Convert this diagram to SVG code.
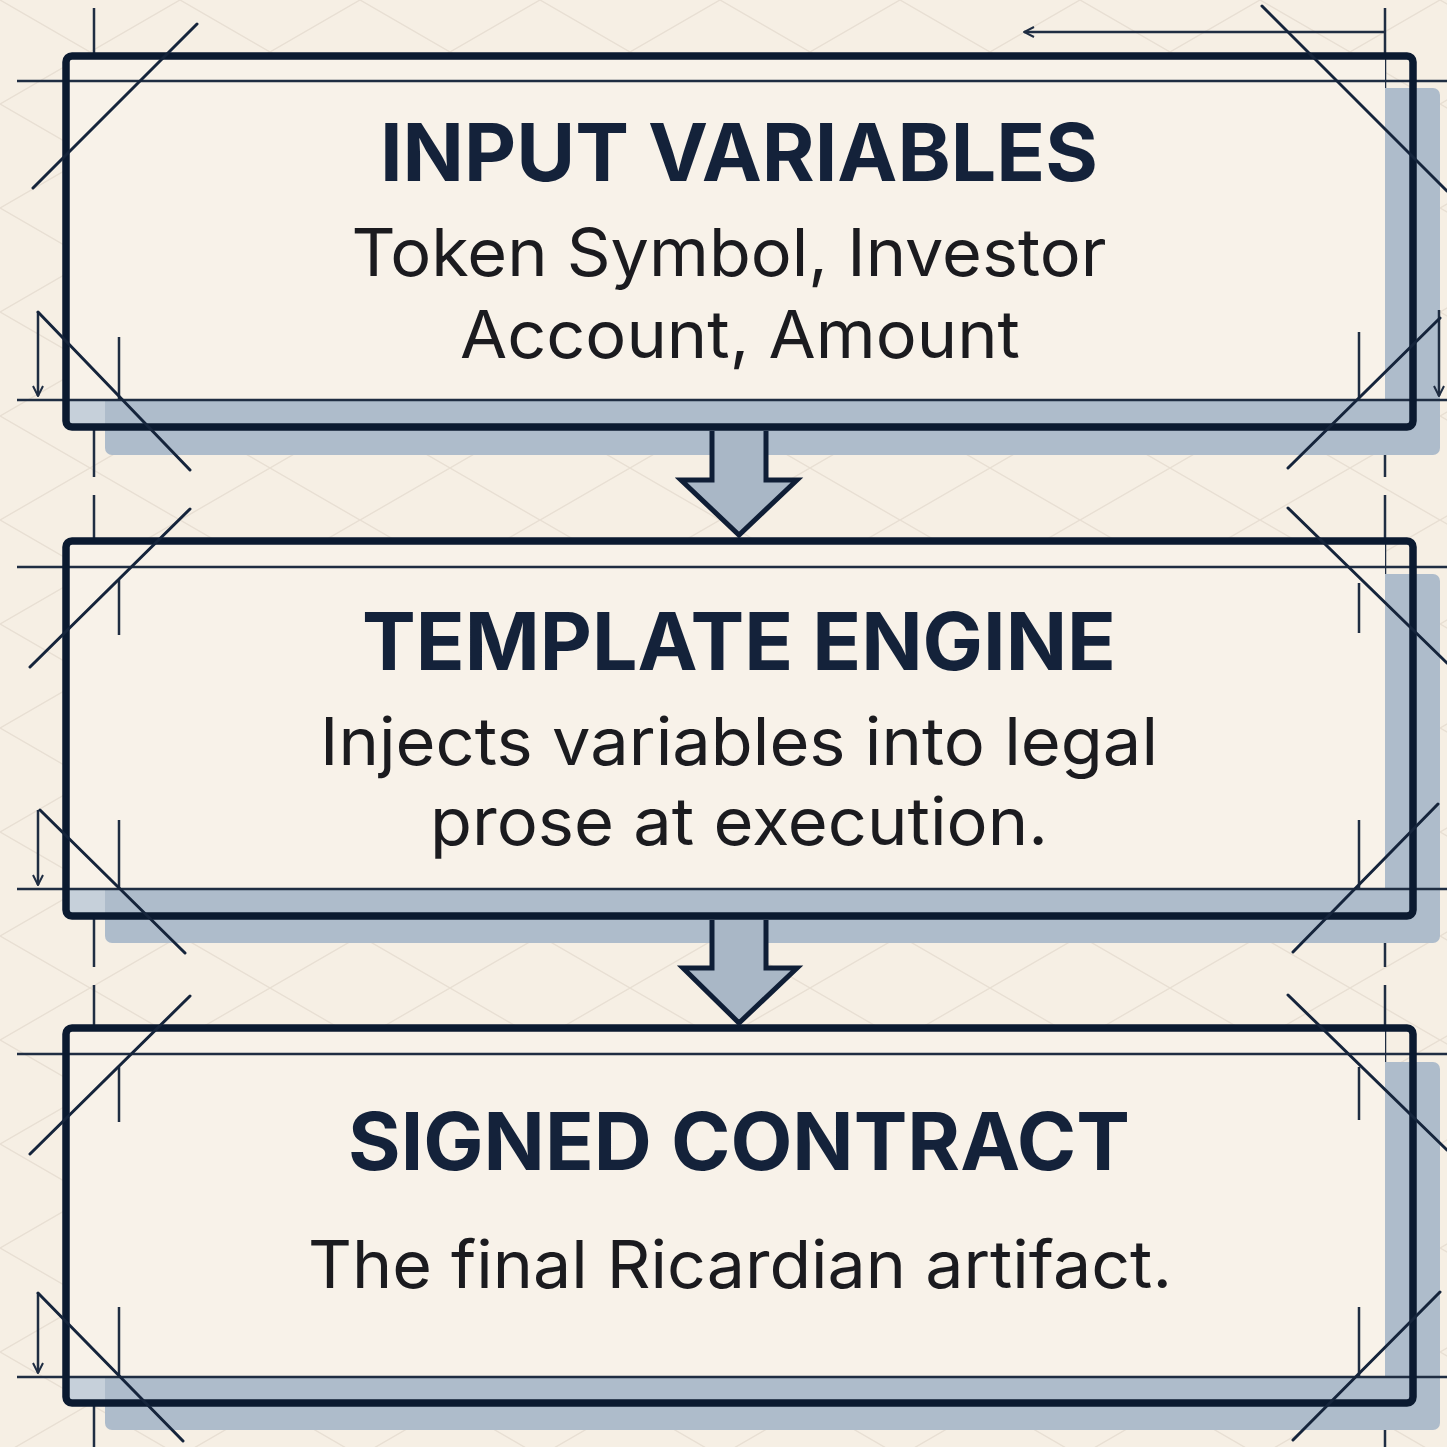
<svg xmlns="http://www.w3.org/2000/svg" width="1447" height="1447" viewBox="0 0 1447 1447">
<style>
.bg{fill:#f6efe4}
.grid{fill:none;stroke:#e8dfd3;stroke-width:1.5}
.shadow{fill:#aebccb}
.inner{fill:#f8f2e9}
.band{fill:#c6d0da}
.frame{fill:none;stroke:#0b1a30;stroke-width:7.5}
.thin{fill:none;stroke:#1f2d42;stroke-width:2.5}
.diag{fill:none;stroke:#15243b;stroke-width:3;stroke-linecap:round}
.flow{fill:#a9b7c6;stroke:#0f1e36;stroke-width:5;stroke-linejoin:miter}
.title{font-family:Inter,"Liberation Sans",sans-serif;font-weight:700;font-size:80px;fill:#14223a}
.body{font-family:Inter,"Liberation Sans",sans-serif;font-weight:400;font-size:66px;fill:#1b1b1f}
</style>
<defs>
<pattern id="gp" patternUnits="userSpaceOnUse" width="180" height="104">
<path class="grid" d="M0,0 L180,104 M0,104 L180,0"/>
</pattern>
<marker id="ah" viewBox="0 0 12 12" refX="11" refY="6" markerWidth="12" markerHeight="12" markerUnits="userSpaceOnUse" orient="auto">
<path d="M1,1 L11,6 L1,11" fill="none" stroke="#1f2d42" stroke-width="2"/>
</marker>
</defs>
<rect class="bg" x="0" y="0" width="1447" height="1447"/>
<rect x="0" y="0" width="1447" height="1447" fill="url(#gp)"/>

<g id="guides">
<path class="thin" d="M94,8 V477 M94,495 V967 M94,985 V1447"/>
<path class="thin" d="M1385,8 V477 M1385,495 V967 M1385,985 V1447"/>
<path class="thin" d="M1385,32 H1024" marker-end="url(#ah)"/>
</g>

<g id="node-input">
<rect class="shadow" x="105" y="88" width="1335" height="367" rx="7"/>
<rect class="band" x="66" y="400" width="39" height="27"/>
<rect class="inner" x="66" y="56" width="1319" height="344"/>
<path class="thin" d="M17,81 H1447 M17,400 H1447"/>
<path class="thin" d="M119,337 V400 M1359,332 V400"/>
<path class="thin" d="M38,312 V396" marker-end="url(#ah)"/>
<path class="thin" d="M1439,310 V396" marker-end="url(#ah)"/>
<rect class="frame" x="66" y="56" width="1347" height="371" rx="6"/>
<path class="diag" d="M33,188 L197,24 M1262,6 L1447,191 M38,312 L190,470 M1288,468 L1440,318"/>
<text class="title" x="739" y="181" text-anchor="middle" textLength="718" lengthAdjust="spacingAndGlyphs">INPUT VARIABLES</text>
<text class="body" x="729" y="276" text-anchor="middle" textLength="755" lengthAdjust="spacingAndGlyphs">Token Symbol, Investor</text>
<text class="body" x="740" y="358" text-anchor="middle" textLength="560" lengthAdjust="spacingAndGlyphs">Account, Amount</text>
</g>

<g id="node-template">
<rect class="shadow" x="105" y="574" width="1335" height="369" rx="7"/>
<rect class="band" x="66" y="889" width="39" height="27"/>
<rect class="inner" x="66" y="541" width="1319" height="348"/>
<path class="thin" d="M17,567 H1447 M17,889 H1447"/>
<path class="thin" d="M119,580 V635 M1359,583 V633 M119,820 V889 M1359,820 V888"/>
<path class="thin" d="M38,810 V885" marker-end="url(#ah)"/>
<rect class="frame" x="66" y="541" width="1347" height="375" rx="6"/>
<path class="diag" d="M30,667 L190,509 M1288,508 L1447,663 M40,810 L185,953 M1293,952 L1438,804"/>
<text class="title" x="739" y="670" text-anchor="middle" textLength="754" lengthAdjust="spacingAndGlyphs">TEMPLATE ENGINE</text>
<text class="body" x="739" y="765" text-anchor="middle" textLength="838" lengthAdjust="spacingAndGlyphs">Injects variables into legal</text>
<text class="body" x="739" y="845" text-anchor="middle" textLength="618" lengthAdjust="spacingAndGlyphs">prose at execution.</text>
</g>

<g id="node-signed">
<rect class="shadow" x="105" y="1062" width="1335" height="368" rx="7"/>
<rect class="band" x="66" y="1377" width="39" height="26"/>
<rect class="inner" x="66" y="1028" width="1319" height="349"/>
<path class="thin" d="M17,1054 H1447 M17,1377 H1447"/>
<path class="thin" d="M119,1067 V1122 M1359,1067 V1120 M119,1307 V1377 M1359,1307 V1376"/>
<path class="thin" d="M38,1293 V1373" marker-end="url(#ah)"/>
<rect class="frame" x="66" y="1028" width="1347" height="375" rx="6"/>
<path class="diag" d="M30,1154 L190,996 M1288,995 L1447,1150 M38,1293 L183,1441 M1293,1440 L1440,1292"/>
<text class="title" x="739" y="1170" text-anchor="middle" textLength="782" lengthAdjust="spacingAndGlyphs">SIGNED CONTRACT</text>
<text class="body" x="740" y="1288" text-anchor="middle" textLength="864" lengthAdjust="spacingAndGlyphs">The final Ricardian artifact.</text>
</g>

<g id="connectors">
<path class="flow" d="M712,431 V480 H681 L739,535 L797,480 H766 V431"/>
<path class="flow" d="M712,920 V968 H683 L739,1023 L797,968 H766 V920"/>
</g>
</svg>
